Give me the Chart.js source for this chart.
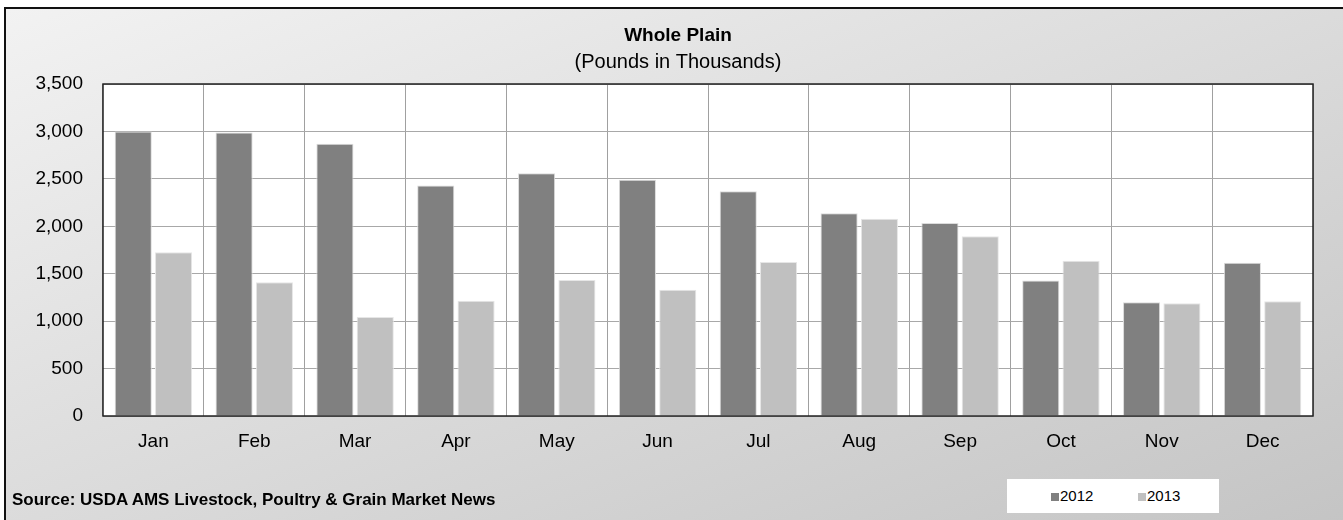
<!DOCTYPE html>
<html>
<head>
<meta charset="utf-8">
<script src="https://cdn.jsdelivr.net/npm/chart.js@4/dist/chart.umd.min.js"></script>
<style>
  html, body { margin: 0; padding: 0; width: 1343px; height: 520px; overflow: hidden; background: #fff; }
  #frame {
    position: absolute; left: 4px; top: 7px; width: 1345px; height: 520px;
    border-left: 2px solid #111; border-top: 2px solid #111;
    background: linear-gradient(to bottom right, #f2f2f2, #c4c4c4);
  }
  #wrap { position: absolute; left: 0; top: 0; width: 1343px; height: 520px; }
  #source {
    position: absolute; left: 12px; top: 490px;
    font: bold 17px "Liberation Sans", Arial, sans-serif; color: #000;
  }
  #legend {
    position: absolute; left: 1007px; top: 479px; width: 212px; height: 34px;
    background: #fff; font: 15px "Liberation Sans", Arial, sans-serif; color: #000;
  }
  #legend span.item { position: absolute; top: 8px; }
  #legend span.sw { display: inline-block; width: 8px; height: 8px; margin-right: 1px; }
</style>
</head>
<body>
<div id="frame"></div>
<div id="wrap"><canvas id="chart" width="1343" height="520"></canvas></div>
<div id="source">Source: USDA AMS Livestock, Poultry &amp; Grain Market News</div>
<div id="legend"></div>
<script>
// data
const months = ['Jan', 'Feb', 'Mar', 'Apr', 'May', 'Jun', 'Jul', 'Aug', 'Sep', 'Oct', 'Nov', 'Dec'];
const values2012 = [3000, 2990, 2870, 2430, 2560, 2490, 2370, 2137, 2035, 1428, 1198, 1616];
const values2013 = [1726, 1409, 1044, 1216, 1434, 1330, 1623, 2080, 1894, 1637, 1188, 1209];
const seriesNames = ['2012', '2013'];
const seriesColors = ['#808080', '#c0c0c0'];
const titleText = 'Whole Plain';
const subtitleText = '(Pounds in Thousands)';

const font = "'Liberation Sans', Arial, sans-serif";

// white plot area, dark frame, and the two title lines (centred a bit right of the canvas middle)
const plotFrame = {
    id: 'plotFrame',
    beforeDraw(chart) {
        const a = chart.chartArea;
        const ctx = chart.ctx;
        ctx.save();
        ctx.fillStyle = '#ffffff';
        ctx.fillRect(a.left, a.top, a.right - a.left, a.bottom - a.top);
        ctx.restore();
    },
    afterDraw(chart) {
        const a = chart.chartArea;
        const ctx = chart.ctx;
        ctx.save();
        ctx.strokeStyle = '#222';
        ctx.lineWidth = 1.5;
        ctx.strokeRect(a.left, a.top, a.right - a.left, a.bottom - a.top);

        const cx = (a.left + a.right) / 2 - 30;
        ctx.fillStyle = '#000';
        ctx.textAlign = 'center';
        ctx.textBaseline = 'alphabetic';
        ctx.font = 'bold 19px ' + font;
        ctx.fillText(titleText, cx, 41);
        ctx.font = '20px ' + font;
        ctx.fillText(subtitleText, cx, 68);
        ctx.restore();
    }
};

new Chart(document.getElementById('chart'), {
    type: 'bar',
    data: {
        labels: months,
        datasets: [
            { label: seriesNames[0], data: values2012, backgroundColor: seriesColors[0], borderColor: '#dcdcdc', borderWidth: 1 },
            { label: seriesNames[1], data: values2013, backgroundColor: seriesColors[1], borderColor: '#e6e6e6', borderWidth: 1 }
        ]
    },
    options: {
        responsive: false,
        animation: false,
        layout: { padding: { left: 0, right: 30, top: 84, bottom: 0 } },
        datasets: { bar: { categoryPercentage: 0.8, barPercentage: 0.92 } },
        plugins: {
            legend: { display: false },
            tooltip: { enabled: false },
            title: { display: false }
        },
        scales: {
            x: {
                afterFit(scale) { scale.height = 104; },
                grid: { color: '#a0a0a0', lineWidth: 1, drawTicks: false, offset: true },
                border: { display: false },
                ticks: { color: '#000', padding: 14, font: { family: font, size: 19 } }
            },
            y: {
                min: 0,
                max: 3500,
                afterFit(scale) { scale.width = 103; },
                grid: { color: '#a8a8a8', lineWidth: 1, drawTicks: false },
                border: { display: false },
                ticks: {
                    stepSize: 500,
                    color: '#000',
                    padding: 20,
                    font: { family: font, size: 19 },
                    callback: (v) => v.toLocaleString('en-US')
                }
            }
        }
    },
    plugins: [plotFrame]
});

// legend
const legend = document.getElementById('legend');
const legendX = [44, 131];
seriesNames.forEach(function (name, i) {
    const item = document.createElement('span');
    item.className = 'item';
    item.style.left = legendX[i] + 'px';
    item.innerHTML = '<span class="sw" style="background:' + seriesColors[i] + '"></span>' + name;
    legend.appendChild(item);
});
</script>
</body>
</html>
